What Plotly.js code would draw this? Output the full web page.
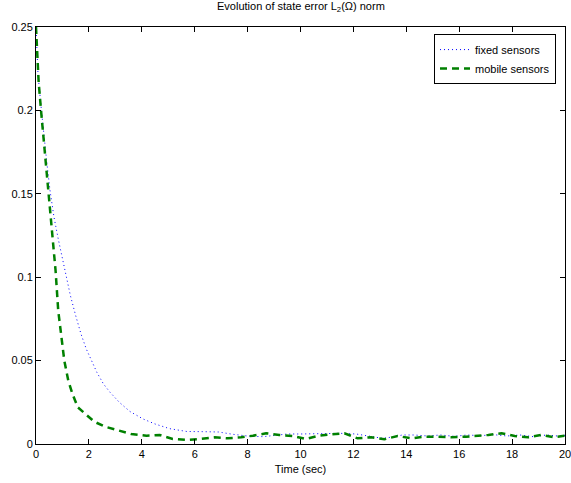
<!DOCTYPE html>
<html>
<head>
<meta charset="utf-8">
<script src="https://cdn.plot.ly/plotly-3.0.1.min.js"></script>
<style>
html,body{margin:0;padding:0;background:#fff;}
#chart{width:571px;height:483px;}
</style>
</head>
<body>
<div id="chart"></div>
<script>
var fixedT = [0, 0.075, 0.18, 0.28, 0.4, 0.53, 0.68, 0.84, 1.0, 1.16, 1.3, 1.5, 1.7, 1.9, 2.1, 2.3, 2.55, 2.8, 3.15, 3.55, 4.05, 4.5, 5.05, 5.7, 6.3, 6.9, 7.45, 8.1, 8.6, 9.0, 9.5, 10.0, 10.5, 11.0, 11.5, 12.1, 12.7, 13.1, 13.5, 13.85, 14.3, 14.8, 15.3, 15.8, 16.3, 16.8, 17.3, 17.8, 18.3, 18.8, 19.3, 19.7, 20];
var fixedV = [0.25, 0.222, 0.204, 0.187, 0.170, 0.152, 0.136, 0.123, 0.111, 0.100, 0.089, 0.077, 0.066, 0.057, 0.050, 0.043, 0.036, 0.031, 0.025, 0.0195, 0.015, 0.012, 0.0092, 0.0075, 0.0074, 0.0072, 0.0058, 0.0046, 0.0044, 0.0052, 0.006, 0.006, 0.0062, 0.0066, 0.0064, 0.006, 0.0044, 0.0034, 0.0042, 0.0054, 0.0054, 0.0048, 0.0054, 0.0046, 0.0054, 0.005, 0.0056, 0.0048, 0.0054, 0.0044, 0.0054, 0.0048, 0.0052];

var mobileT = [0, 0.05, 0.1, 0.19, 0.29, 0.39, 0.49, 0.55, 0.74, 0.84, 0.97, 1.07, 1.22, 1.38, 1.58, 1.97, 2.2, 2.6, 3.17, 3.6, 4.18, 4.68, 5.17, 5.7, 6.2, 6.75, 7.25, 7.76, 8.2, 8.7, 9.2, 9.7, 10.2, 10.7, 11.16, 11.66, 12.16, 12.67, 13.17, 13.67, 14.18, 14.7, 15.2, 15.7, 16.25, 16.75, 17.1, 17.6, 18.1, 18.6, 19.1, 19.6, 20];
var mobileV = [0.25, 0.234, 0.217, 0.2, 0.183, 0.166, 0.15, 0.141, 0.104, 0.08, 0.062, 0.05, 0.038, 0.030, 0.022, 0.0164, 0.0134, 0.0104, 0.008, 0.006, 0.005, 0.0054, 0.003, 0.0024, 0.003, 0.004, 0.0034, 0.004, 0.005, 0.0064, 0.0054, 0.0048, 0.003, 0.005, 0.0058, 0.0064, 0.0034, 0.004, 0.0028, 0.0048, 0.0034, 0.0044, 0.0044, 0.004, 0.0044, 0.0048, 0.0054, 0.0064, 0.0048, 0.004, 0.0054, 0.004, 0.005];

var xTicks = [0, 2, 4, 6, 8, 10, 12, 14, 16, 18, 20];
var yTicks = [0, 0.05, 0.1, 0.15, 0.2, 0.25];
var yTickText = ['0', '0.05', '0.1', '0.15', '0.2', '0.25'];

var font = 'Liberation Sans, Arial, Helvetica, sans-serif';

var traces = [
  {x: fixedT, y: fixedV, mode: 'lines', name: 'fixed sensors',
   line: {color: 'rgb(0,0,255)', width: 1, dash: '1px,3px'}},
  {x: mobileT, y: mobileV, mode: 'lines', name: 'mobile sensors',
   line: {color: 'rgb(0,128,0)', width: 2.5, dash: '7px,5px'}}
];

var layout = {
  width: 571, height: 483,
  margin: {l: 36, r: 6, t: 27, b: 39, pad: 0},
  paper_bgcolor: '#fff', plot_bgcolor: '#fff',
  font: {family: font, size: 11, color: '#000'},
  showlegend: true,
  title: {text: 'Evolution of state error L<sub>2</sub>(Ω) norm', x: 0.527, xanchor: 'center', y: 0.995, yanchor: 'top', font: {family: font, size: 11, color: '#000'}},
  xaxis: {range: [0, 20], tickvals: xTicks, ticktext: xTicks.map(String), ticks: 'inside', ticklen: 5, tickcolor: '#000',
          showline: true, linecolor: '#000', linewidth: 1, mirror: 'ticks', showgrid: false, zeroline: false,
          ticklabeloverflow: 'allow',
          title: {text: 'Time (sec)', standoff: 6, font: {family: font, size: 11, color: '#000'}},
          tickfont: {family: font, size: 11, color: '#000'}, fixedrange: true},
  yaxis: {range: [0, 0.25], tickvals: yTicks, ticktext: yTickText, ticks: 'inside', ticklen: 5, tickcolor: '#000',
          showline: true, linecolor: '#000', linewidth: 1, mirror: 'ticks', showgrid: false, zeroline: false,
          ticklabeloverflow: 'allow',
          tickfont: {family: font, size: 11, color: '#000'}, fixedrange: true},
  legend: {x: 0.983, xanchor: 'right', y: 0.983, yanchor: 'top', bgcolor: '#fff', bordercolor: '#000', borderwidth: 1,
           font: {family: font, size: 11, color: '#000'}, tracegroupgap: 0, itemwidth: 30}
};

Plotly.newPlot('chart', traces, layout, {displayModeBar: false, staticPlot: true});
</script>
</body>
</html>
